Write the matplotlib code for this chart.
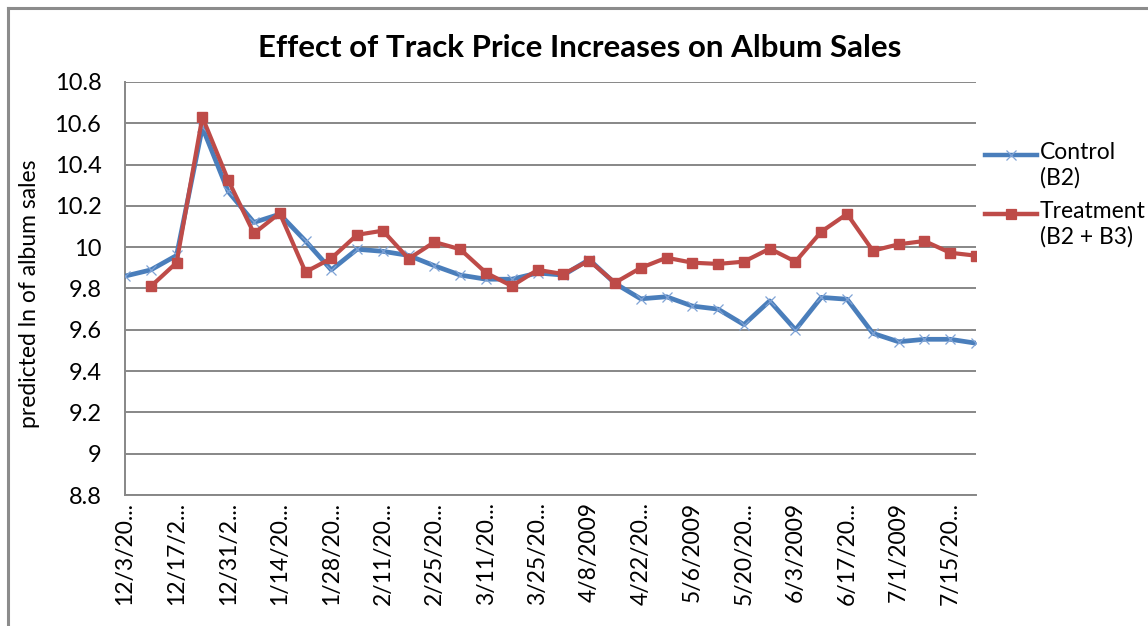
import matplotlib
matplotlib.use("Agg")
import matplotlib.pyplot as plt
from matplotlib.lines import Line2D
import numpy as np

# weekly dates, 12/3/2008 .. 7/22/2009
dates = ["12/3/2008", "12/10/2008", "12/17/2008", "12/24/2008", "12/31/2008",
         "1/7/2009", "1/14/2009", "1/21/2009", "1/28/2009", "2/4/2009",
         "2/11/2009", "2/18/2009", "2/25/2009", "3/4/2009", "3/11/2009",
         "3/18/2009", "3/25/2009", "4/1/2009", "4/8/2009", "4/15/2009",
         "4/22/2009", "4/29/2009", "5/6/2009", "5/13/2009", "5/20/2009",
         "5/27/2009", "6/3/2009", "6/10/2009", "6/17/2009", "6/24/2009",
         "7/1/2009", "7/8/2009", "7/15/2009", "7/22/2009"]

control = [9.86, 9.89, 9.96, 10.58, 10.27, 10.12, 10.16, 10.03, 9.89, 9.99,
           9.98, 9.96, 9.91, 9.865, 9.845, 9.845, 9.875, 9.865, 9.94, 9.825,
           9.75, 9.76, 9.715, 9.70, 9.625, 9.74, 9.60, 9.757, 9.748, 9.583,
           9.542, 9.554, 9.554, 9.535]

treatment = [np.nan, 9.81, 9.925, 10.63, 10.325, 10.067, 10.165, 9.88, 9.946, 10.06,
             10.08, 9.944, 10.025, 9.99, 9.876, 9.812, 9.89, 9.87, 9.935, 9.828,
             9.90, 9.949, 9.925, 9.919, 9.93, 9.993, 9.93, 10.075, 10.161, 9.983,
             10.014, 10.03, 9.973, 9.959]

yticks = [8.8, 9, 9.2, 9.4, 9.6, 9.8, 10, 10.2, 10.4, 10.6, 10.8]

BLUE = "#4A7EBB"
RED = "#BE4B48"
GRID = "#878787"
FONT = "Lato"


def short(s):
    # Excel cuts long category labels
    return s if len(s) <= 8 else s[:7] + "..."


fig = plt.figure(figsize=(11.48, 6.26), dpi=100)
ax = fig.add_axes([125 / 1148, 1 - 495 / 626, 851 / 1148, 413 / 626])

x = np.arange(len(dates))
ax.plot(x, control, color=BLUE, lw=3.4, marker="x", ms=7, mew=0.9,
        mec="#7FA3D6", solid_joinstyle="round", zorder=3)
ax.plot(x, treatment, color=RED, lw=3.0, marker="s", ms=7.5,
        mec=RED, mfc=RED, solid_joinstyle="round", zorder=4)

ax.set_xlim(0, len(dates) - 1)
ax.set_ylim(8.8, 10.8)
ax.set_yticks(yticks)
ax.set_yticklabels([f"{v:g}" for v in yticks], fontsize=17, family=FONT)
ax.set_xticks(x[::2])
ax.set_xticklabels([short(d) for d in dates[::2]], rotation=90, fontsize=16.5,
                   family=FONT, va="top")
ax.tick_params(axis="y", length=0, pad=17)
ax.tick_params(axis="x", length=0, pad=5)
ax.yaxis.grid(True, color=GRID, lw=1.4)
ax.set_axisbelow(True)
for s in ["top", "right"]:
    ax.spines[s].set_visible(False)
for s in ["left", "bottom"]:
    ax.spines[s].set_color(GRID)
    ax.spines[s].set_linewidth(1.4)

fig.text(580 / 1148, 1 - 48 / 626, "Effect of Track Price Increases on Album Sales",
         ha="center", va="center", fontsize=22.5, fontweight="bold", family=FONT)
fig.text(30 / 1148, 1 - 294 / 626, "predicted ln of album sales", rotation=90,
         ha="center", va="center", fontsize=16.5, family=FONT)

# legend drawn by hand, Excel style (sample next to first text line)
legend_rows = [("Control\n(B2)", BLUE, "x", 155), ("Treatment\n(B2 + B3)", RED, "s", 214)]
for label, col, mk, ypx in legend_rows:
    yf = 1 - ypx / 626
    fig.add_artist(Line2D([985 / 1148, 1037 / 1148], [yf, yf], color=col, lw=3.2,
                          transform=fig.transFigure))
    fig.add_artist(Line2D([1011 / 1148], [yf], color=col, marker=mk,
                          ms=7 if mk == "x" else 7.5, mew=0.9,
                          mec="#7FA3D6" if mk == "x" else col,
                          transform=fig.transFigure))
    fig.text(1040 / 1148, yf + 13 / 626, label, ha="left", va="top", fontsize=16.5,
             family=FONT, linespacing=1.25)

# chart frame (only top and left edges are visible in the crop)
fig.add_artist(Line2D([8 / 1148, 8 / 1148], [0, 1 - 8 / 626], color="#8C8C8C",
                      lw=2.2, transform=fig.transFigure))
fig.add_artist(Line2D([8 / 1148, 1], [1 - 8 / 626, 1 - 8 / 626], color="#8C8C8C",
                      lw=2.2, transform=fig.transFigure))

fig.savefig("out.png", dpi=100)
